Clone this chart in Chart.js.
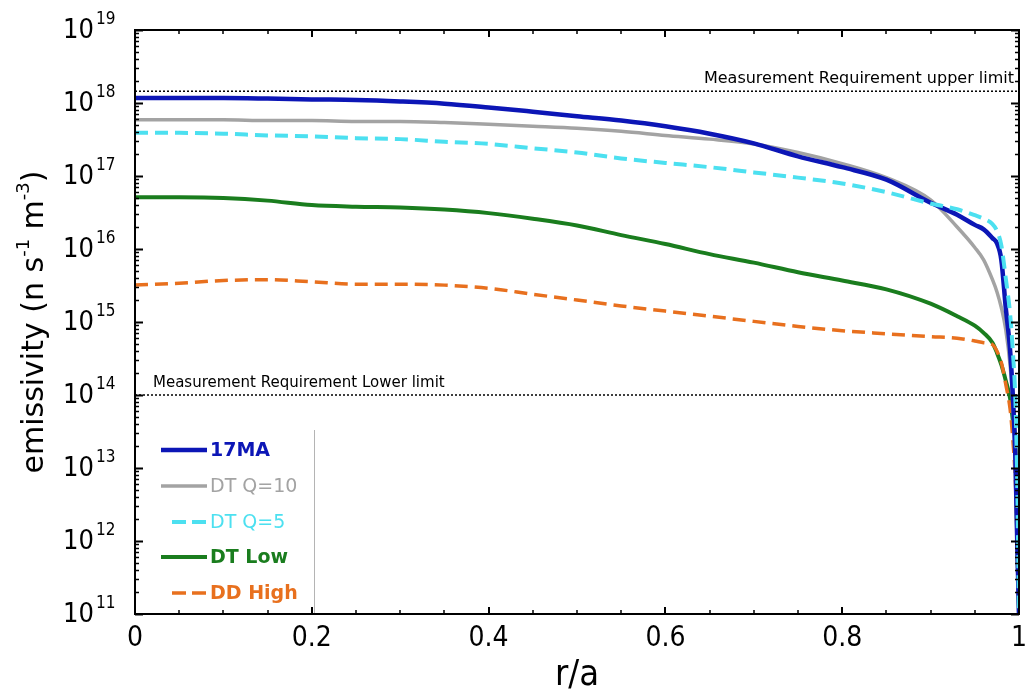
<!DOCTYPE html>
<html>
<head>
<meta charset="utf-8">
<title>Neutron emissivity profiles</title>
<script src="https://cdn.jsdelivr.net/npm/chart.js@4.4.1/dist/chart.umd.min.js"></script>
<style>
  html, body { margin: 0; padding: 0; background: #fff; }
  #wrap { position: relative; width: 1028px; height: 694px; }
</style>
</head>
<body>
<div id="wrap"><canvas id="emissivityChart" width="1028" height="694"></canvas></div>
<script>
// normalised minor radius, shared by every profile
const rOverA = [0, 0.05, 0.1, 0.15, 0.2, 0.25, 0.3, 0.35, 0.4, 0.45, 0.5, 0.55, 0.6, 0.65, 0.7,
  0.75, 0.8, 0.85, 0.9, 0.93, 0.95, 0.96, 0.97, 0.975, 0.98, 0.985, 0.99, 0.993, 0.996, 0.998, 1.0];

// neutron emissivity, n s^-1 m^-3
const ma17 = [1.17e18, 1.17e18, 1.17e18, 1.15e18, 1.12e18, 1.1e18, 1.05e18, 9.8e17, 8.7e17, 7.6e17,
  6.6e17, 5.75e17, 4.8e17, 3.8e17, 2.8e17, 1.86e17, 1.32e17, 8.9e16, 4.3e16, 2.95e16,
  2.14e16, 1.86e16, 1.41e16, 1.2e16, 7.1e15, 1.58e15, 4.0e14, 1.0e14, 1.26e13, 1.0e12, 1e11];
const dtQ10 = [5.9e17, 5.9e17, 5.9e17, 5.75e17, 5.75e17, 5.6e17, 5.6e17, 5.4e17, 5.1e17, 4.8e17,
  4.5e17, 4.1e17, 3.6e17, 3.2e17, 2.75e17, 2.1e17, 1.48e17, 9.5e16, 4.7e16, 2.0e16,
  1.05e16, 7.1e15, 3.8e15, 2.6e15, 1.58e15, 7.9e14, 2.5e14, 7.9e13, 7.9e12, 6.3e11, 1e11];
const dtQ5 = [3.9e17, 3.9e17, 3.8e17, 3.6e17, 3.5e17, 3.3e17, 3.2e17, 2.95e17, 2.75e17, 2.4e17,
  2.1e17, 1.74e17, 1.51e17, 1.32e17, 1.12e17, 9.5e16, 7.9e16, 6.0e16, 4.2e16, 3.5e16,
  2.9e16, 2.6e16, 2.2e16, 1.78e16, 1.12e16, 4.0e15, 1.26e15, 4.0e14, 7.9e13, 6.3e12, 1e11];
const dtLow = [5.1e16, 5.1e16, 5.0e16, 4.6e16, 4.0e16, 3.8e16, 3.7e16, 3.47e16, 3.1e16, 2.6e16,
  2.1e16, 1.55e16, 1.17e16, 8.5e15, 6.5e15, 4.8e15, 3.7e15, 2.8e15, 1.78e15, 1.2e15,
  8.9e14, 7.1e14, 5.2e14, 3.8e14, 2.6e14, 1.58e14, 8.9e13, 4.5e13, 2.0e13, 1.0e12, 1e11];
const ddHigh = [3.2e15, 3.4e15, 3.7e15, 3.8e15, 3.55e15, 3.3e15, 3.3e15, 3.2e15, 2.9e15, 2.4e15,
  2.0e15, 1.66e15, 1.41e15, 1.2e15, 1.02e15, 8.7e14, 7.6e14, 6.9e14, 6.3e14, 6.0e14,
  5.5e14, 5.2e14, 4.9e14, 4.0e14, 2.8e14, 1.41e14, 6.3e13, 2.5e13, 6.3e12, 1.0e12, 1e11];

// measurement requirement band
const upperLimit = 1.45e18;
const lowerLimit = 1e14;

// labelled decades on the emissivity axis
const decades = [11, 12, 13, 14, 15, 16, 17, 18, 19];

const pts = vals => rOverA.map((r, i) => ({ x: r, y: vals[i] }));

function profile(label, vals, color, width, dash, order, bold) {
  return {
    label, data: pts(vals), borderColor: color, backgroundColor: color,
    borderWidth: width, borderDash: dash, order, pointRadius: 0,
    cubicInterpolationMode: 'monotone', fill: false,
    inLegend: true, legendBold: bold
  };
}

function limitLine(label, val) {
  return {
    label, data: [{ x: 0, y: val }, { x: 1, y: val }],
    borderColor: '#000', borderWidth: 1.5, borderDash: [2, 2],
    pointRadius: 0, order: 9, fill: false
  };
}

const SANS = "'DejaVu Sans', 'Liberation Sans', sans-serif";
const NARROW = "'Liberation Sans Narrow', 'DejaVu Sans Condensed', 'DejaVu Sans', sans-serif";

// frame, inward ticks, log labels with exponents, legend and limit notes
const decor = {
  id: 'decor',
  afterDraw(chart) {
    const { ctx, chartArea: a, scales: { x, y } } = chart;
    ctx.save();

    // legend panel in the lower left corner
    ctx.fillStyle = '#fff';
    ctx.fillRect(a.left + 1, 430, 314 - a.left, a.bottom - 430);
    ctx.strokeStyle = '#b4b4b4';
    ctx.lineWidth = 1;
    ctx.beginPath();
    ctx.moveTo(314.5, 430);
    ctx.lineTo(314.5, a.bottom);
    ctx.stroke();

    const rows = [450, 486, 522, 557, 593];
    chart.data.datasets.filter(d => d.inLegend).forEach((d, i) => {
      const yy = rows[i];
      ctx.strokeStyle = d.borderColor;
      ctx.lineWidth = d.borderWidth;
      ctx.setLineDash(d.borderDash.length ? [14, 6] : []);
      ctx.beginPath();
      ctx.moveTo(d.borderDash.length ? 172 : 161, yy);
      ctx.lineTo(207, yy);
      ctx.stroke();
      ctx.setLineDash([]);
      ctx.fillStyle = d.borderColor;
      ctx.font = (d.legendBold ? 'bold ' : '') + '19px ' + SANS;
      ctx.textAlign = 'left';
      ctx.textBaseline = 'middle';
      ctx.fillText(d.label, 210, yy + 1);
    });

    // limit notes
    ctx.fillStyle = '#000';
    ctx.textBaseline = 'alphabetic';
    ctx.font = '16px ' + SANS;
    ctx.textAlign = 'right';
    ctx.fillText('Measurement Requirement upper limit', 1014, y.getPixelForValue(upperLimit) - 8);
    ctx.font = '15px ' + SANS;
    ctx.textAlign = 'left';
    ctx.fillText('Measurement Requirement Lower limit', 153, y.getPixelForValue(lowerLimit) - 8);

    // plot frame
    ctx.strokeStyle = '#000';
    ctx.lineWidth = 2;
    ctx.strokeRect(a.left, a.top, a.right - a.left, a.bottom - a.top);

    // x ticks, pointing inwards, on bottom and top
    for (let i = 0; i <= 20; i++) {
      const px = Math.round(x.getPixelForValue(i * 0.05));
      const len = i % 4 === 0 ? 7 : 4;
      ctx.lineWidth = i % 4 === 0 ? 2 : 1.5;
      ctx.beginPath();
      ctx.moveTo(px, a.bottom); ctx.lineTo(px, a.bottom - len);
      ctx.moveTo(px, a.top); ctx.lineTo(px, a.top + len);
      ctx.stroke();
    }

    // logarithmic ticks on left and right
    for (let d = decades[0]; d <= decades[decades.length - 1]; d++) {
      for (let m = 1; m <= 9; m++) {
        if (d === decades[decades.length - 1] && m > 1) break;
        const py = Math.round(y.getPixelForValue(m * Math.pow(10, d))) + 0.5;
        const len = m === 1 ? 8 : 4;
        ctx.lineWidth = m === 1 ? 2 : 1.5;
        ctx.beginPath();
        ctx.moveTo(a.left, py); ctx.lineTo(a.left + len, py);
        ctx.moveTo(a.right, py); ctx.lineTo(a.right - len, py);
        ctx.stroke();
      }
    }

    // decade labels as 10 with raised exponent
    ctx.fillStyle = '#000';
    decades.forEach(d => {
      const py = y.getPixelForValue(Math.pow(10, d));
      ctx.font = "27px 'DejaVu Sans Condensed', " + SANS;
      ctx.textAlign = 'right';
      ctx.textBaseline = 'alphabetic';
      ctx.fillText('10', 94, py + 8);
      ctx.font = "17px 'DejaVu Sans Condensed', " + SANS;
      ctx.textAlign = 'left';
      ctx.fillText(String(d), 96, py - 6);
    });

    // rotated axis title with superscripts
    const parts = [['emissivity (n s', false], ['-1', true], [' m', false], ['-3', true], [')', false]];
    const big = '30px ' + SANS, small = '18px ' + SANS;
    let total = 0;
    parts.forEach(([t, sup]) => { ctx.font = sup ? small : big; total += ctx.measureText(t).width; });
    ctx.translate(43, (a.top + a.bottom) / 2);
    ctx.rotate(-Math.PI / 2);
    ctx.textAlign = 'left';
    ctx.textBaseline = 'alphabetic';
    let cx = -total / 2;
    parts.forEach(([t, sup]) => {
      ctx.font = sup ? small : big;
      ctx.fillText(t, cx, sup ? -14 : 0);
      cx += ctx.measureText(t).width;
    });

    ctx.restore();
  }
};

const chart = new Chart(document.getElementById('emissivityChart'), {
  type: 'line',
  data: {
    datasets: [
      profile('17MA', ma17, '#0c16b6', 4.5, [], 2, true),
      profile('DT Q=10', dtQ10, '#a3a3a3', 3.5, [], 3, false),
      profile('DT Q=5', dtQ5, '#4ce0f0', 4, [13, 7], 1, false),
      profile('DT Low', dtLow, '#1a7d1e', 4, [], 5, true),
      profile('DD High', ddHigh, '#e8701e', 3.5, [13, 7], 4, true),
      limitLine('upper limit', upperLimit),
      limitLine('lower limit', lowerLimit)
    ]
  },
  options: {
    responsive: false,
    animation: false,
    devicePixelRatio: 1,
    layout: { padding: { top: 30, right: 9, left: 0, bottom: 0 } },
    plugins: { legend: { display: false }, tooltip: { enabled: false } },
    scales: {
      x: {
        type: 'linear', min: 0, max: 1,
        grid: { display: false, drawTicks: false },
        border: { display: false },
        ticks: {
          stepSize: 0.2, padding: 8, color: '#000',
          font: { family: NARROW, size: 28 },
          callback: v => Math.abs(v - Math.round(v)) < 1e-9 ? String(Math.round(v)) : v.toFixed(1)
        },
        title: {
          display: true, text: 'r/a', color: '#000',
          font: { family: NARROW, size: 36, lineHeight: 1 },
          padding: { top: 0, bottom: 0 }
        },
        afterFit: s => { s.height = 80; s.paddingLeft = 0; s.paddingRight = 0; }
      },
      y: {
        type: 'logarithmic', min: 1e11, max: 1e19,
        grid: { display: false, drawTicks: false },
        border: { display: false },
        ticks: { display: false },
        afterFit: s => { s.width = 135; s.paddingTop = 0; s.paddingBottom = 0; }
      }
    }
  },
  plugins: [decor]
});
</script>
</body>
</html>
